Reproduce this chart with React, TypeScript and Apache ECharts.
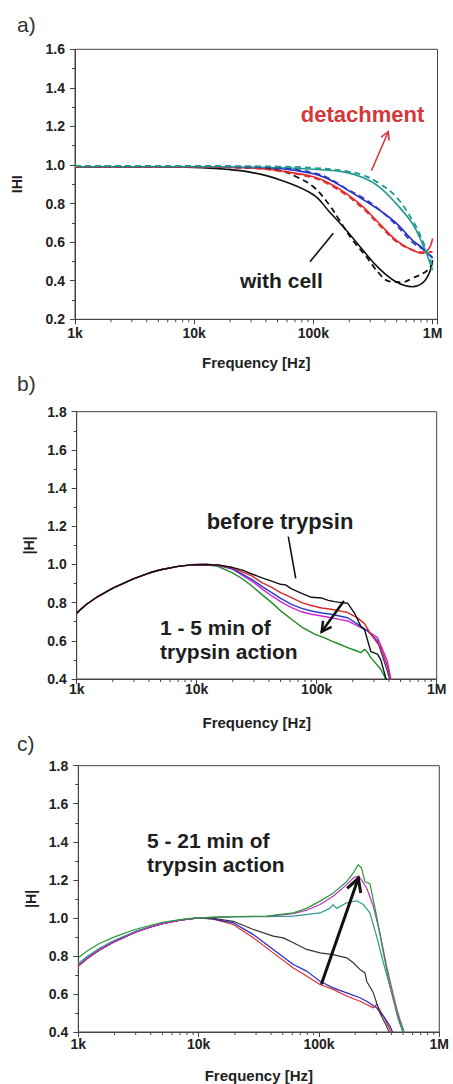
import { useEffect, useRef } from "react";
import * as echarts from "echarts";

// ---------- tick labels ----------
const freqTickLabels: Record<number, string> = { 1000: "1k", 10000: "10k", 100000: "100k", 1000000: "1M" };
const minorFreqs = [2e3, 3e3, 4e3, 5e3, 6e3, 7e3, 8e3, 9e3, 2e4, 3e4, 4e4, 5e4, 6e4, 7e4, 8e4, 9e4, 2e5, 3e5, 4e5, 5e5, 6e5, 7e5, 8e5, 9e5];

// ---------- panel a ----------
const aBlackSolid = [[1e3, 0.99], [5e3, 0.99], [1e4, 0.988], [2e4, 0.976], [3e4, 0.962], [5.2e4, 0.924], [1e5, 0.846], [1.36e5, 0.758], [1.88e5, 0.663], [2.6e5, 0.559], [3.56e5, 0.464], [4.93e5, 0.395], [6.75e5, 0.369], [8.2e5, 0.387], [9.35e5, 0.438], [1e6, 0.507]];
const aBlackDash = [[1e3, 0.99], [1e4, 0.99], [3e4, 0.985], [5.2e4, 0.972], [7.2e4, 0.939], [1e5, 0.887], [1.36e5, 0.793], [1.65e5, 0.715], [2.13e5, 0.611], [2.78e5, 0.525], [3.56e5, 0.438], [4.33e5, 0.397], [5.6e5, 0.393], [6.75e5, 0.413], [8.75e5, 0.447], [1e6, 0.49]];
const aRedSolid = [[1e3, 0.99], [1e4, 0.99], [3e4, 0.985], [5.2e4, 0.97], [1e5, 0.939], [1.36e5, 0.905], [1.88e5, 0.853], [2.6e5, 0.784], [3.56e5, 0.698], [4.93e5, 0.611], [6.75e5, 0.559], [8.2e5, 0.542], [9.35e5, 0.568], [1e6, 0.62]];
const aRedDash = [[1e3, 0.99], [1e4, 0.99], [3e4, 0.984], [5.2e4, 0.968], [1e5, 0.934], [1.36e5, 0.898], [1.88e5, 0.845], [2.6e5, 0.775], [3.56e5, 0.69], [4.93e5, 0.605], [6.75e5, 0.56], [8.2e5, 0.548], [1e6, 0.55]];
const aBlueSolid = [[1e3, 0.99], [1e4, 0.99], [3e4, 0.987], [5.2e4, 0.982], [1e5, 0.955], [1.36e5, 0.925], [1.88e5, 0.875], [2.6e5, 0.822], [3.56e5, 0.767], [4.93e5, 0.7], [6.75e5, 0.611], [8.2e5, 0.57], [1e6, 0.517]];
const aBlueDash = [[1e3, 0.995], [1e4, 0.995], [3e4, 0.99], [5.2e4, 0.985], [1e5, 0.96], [1.36e5, 0.93], [1.88e5, 0.878], [2.6e5, 0.83], [3.56e5, 0.77], [4.93e5, 0.69], [6.75e5, 0.6], [8.2e5, 0.565], [1e6, 0.52]];
const aTealSolid = [[1e3, 0.99], [1e4, 0.99], [5.2e4, 0.986], [1e5, 0.978], [1.88e5, 0.962], [2.6e5, 0.935], [3.56e5, 0.887], [4.93e5, 0.801], [6.75e5, 0.698], [8.2e5, 0.594], [9.35e5, 0.507], [1e6, 0.455]];
const aTealDash = [[1e3, 0.995], [1e4, 0.995], [5.2e4, 0.992], [1e5, 0.985], [1.88e5, 0.968], [2.6e5, 0.948], [3.56e5, 0.905], [4.93e5, 0.836], [6.75e5, 0.715], [8.2e5, 0.611], [1e6, 0.473]];

// ---------- panel b ----------
const bBlack = [[1e3, 0.745], [1.2e3, 0.79], [1.5e3, 0.832], [2e3, 0.876], [3e3, 0.926], [4e3, 0.955], [5e3, 0.972], [7e3, 0.99], [9e3, 0.998], [1.2e4, 1.0], [1.5e4, 0.998], [1.97e4, 0.985], [2.4e4, 0.97], [2.88e4, 0.95], [3.5e4, 0.93], [4.22e4, 0.913], [5e4, 0.896], [5.5e4, 0.893], [6.17e4, 0.872], [7.5e4, 0.848], [9.02e4, 0.828], [1.1e5, 0.824], [1.25e5, 0.812], [1.41e5, 0.805], [1.6e5, 0.8], [1.81e5, 0.797], [2.07e5, 0.744], [2.34e5, 0.674], [2.5e5, 0.66], [2.65e5, 0.604], [2.83e5, 0.543], [3.21e5, 0.53], [3.42e5, 0.5], [3.76e5, 0.407], [3.9e5, 0.38]];
const bRed = [[1e3, 0.745], [1.2e3, 0.79], [1.5e3, 0.832], [2e3, 0.876], [3e3, 0.926], [4e3, 0.955], [5e3, 0.972], [7e3, 0.99], [9e3, 0.998], [1.2e4, 1.0], [1.5e4, 0.997], [1.97e4, 0.982], [2.88e4, 0.94], [3.5e4, 0.905], [4.22e4, 0.88], [5e4, 0.852], [6.17e4, 0.826], [7.5e4, 0.8], [9.02e4, 0.785], [1.1e5, 0.772], [1.32e5, 0.765], [1.55e5, 0.757], [1.81e5, 0.748], [2.19e5, 0.72], [2.5e5, 0.69], [2.83e5, 0.634], [3.42e5, 0.564], [3.88e5, 0.468], [4.14e5, 0.4], [4.3e5, 0.37]];
const bBlue = [[1e3, 0.745], [1.2e3, 0.79], [1.5e3, 0.832], [2e3, 0.876], [3e3, 0.926], [4e3, 0.955], [5e3, 0.972], [7e3, 0.99], [9e3, 0.998], [1.2e4, 1.0], [1.5e4, 0.996], [1.97e4, 0.978], [2.88e4, 0.922], [3.5e4, 0.885], [4.22e4, 0.852], [5e4, 0.822], [6.17e4, 0.791], [7.5e4, 0.77], [9.02e4, 0.756], [1.1e5, 0.746], [1.32e5, 0.739], [1.55e5, 0.73], [1.81e5, 0.721], [2.19e5, 0.687], [2.65e5, 0.652], [3.21e5, 0.6], [3.88e5, 0.442], [4.05e5, 0.4], [4.2e5, 0.37]];
const bMagenta = [[1e3, 0.745], [1.2e3, 0.79], [1.5e3, 0.832], [2e3, 0.876], [3e3, 0.926], [4e3, 0.955], [5e3, 0.972], [7e3, 0.99], [9e3, 0.998], [1.2e4, 1.0], [1.5e4, 0.996], [1.97e4, 0.976], [2.88e4, 0.913], [3.5e4, 0.872], [4.22e4, 0.835], [5e4, 0.805], [6.17e4, 0.774], [7.5e4, 0.752], [9.02e4, 0.739], [1.1e5, 0.73], [1.32e5, 0.721], [1.55e5, 0.712], [1.81e5, 0.704], [2.19e5, 0.678], [2.65e5, 0.652], [3.21e5, 0.617], [3.88e5, 0.495], [4.14e5, 0.4], [4.3e5, 0.37]];
const bGreen = [[1e3, 0.745], [1.2e3, 0.79], [1.5e3, 0.832], [2e3, 0.876], [3e3, 0.926], [4e3, 0.955], [5e3, 0.972], [7e3, 0.99], [9e3, 0.998], [1.2e4, 0.998], [1.5e4, 0.99], [1.97e4, 0.957], [2.4e4, 0.925], [2.88e4, 0.887], [3.5e4, 0.842], [4.22e4, 0.8], [5e4, 0.757], [6.17e4, 0.713], [7.5e4, 0.672], [9.7e4, 0.634], [1.15e5, 0.617], [1.32e5, 0.6], [1.55e5, 0.582], [1.81e5, 0.564], [2.05e5, 0.552], [2.34e5, 0.538], [2.5e5, 0.556], [2.65e5, 0.54], [2.83e5, 0.512], [3.42e5, 0.451], [3.76e5, 0.4], [3.9e5, 0.37]];

// ---------- panel c ----------
const cGreen = [[1e3, 0.79], [1.2e3, 0.828], [1.5e3, 0.865], [2e3, 0.9], [3e3, 0.94], [5e3, 0.977], [8e3, 0.996], [1.32e4, 1.004], [1.94e4, 1.007], [3.67e4, 1.009], [6.12e4, 1.026], [7.9e4, 1.05], [1.02e5, 1.088], [1.31e5, 1.13], [1.7e5, 1.19], [1.93e5, 1.236], [2.12e5, 1.28], [2.26e5, 1.262], [2.41e5, 1.19], [2.65e5, 1.18], [3.01e5, 1.01], [3.43e5, 0.816], [3.89e5, 0.64], [4.56e5, 0.466], [5.02e5, 0.396], [5.2e5, 0.37]];
const cMagenta = [[1e3, 0.75], [1.2e3, 0.79], [1.5e3, 0.832], [2e3, 0.876], [3e3, 0.926], [4e3, 0.953], [5e3, 0.97], [7e3, 0.988], [1e4, 1.0], [1.32e4, 1.002], [1.94e4, 1.006], [3.67e4, 1.008], [6.12e4, 1.022], [7.9e4, 1.04], [1.02e5, 1.07], [1.31e5, 1.114], [1.7e5, 1.175], [1.93e5, 1.21], [2.12e5, 1.22], [2.26e5, 1.2], [2.49e5, 1.157], [2.83e5, 1.061], [3.21e5, 0.92], [3.65e5, 0.746], [4.42e5, 0.52], [5.02e5, 0.39], [5.2e5, 0.37]];
const cTeal = [[1e3, 0.76], [1.2e3, 0.8], [1.5e3, 0.84], [2e3, 0.882], [3e3, 0.93], [4e3, 0.956], [5e3, 0.972], [7e3, 0.99], [1e4, 1.0], [1.32e4, 1.003], [1.94e4, 1.006], [3.67e4, 1.006], [6.12e4, 1.009], [1.02e5, 1.026], [1.23e5, 1.05], [1.31e5, 1.07], [1.4e5, 1.05], [1.7e5, 1.079], [2.06e5, 1.09], [2.34e5, 1.07], [2.65e5, 1.026], [3.01e5, 0.904], [3.43e5, 0.764], [3.89e5, 0.64], [4.71e5, 0.466], [5.19e5, 0.39], [5.4e5, 0.37]];
const cBlack = [[1e3, 0.75], [1.2e3, 0.79], [1.5e3, 0.832], [2e3, 0.876], [3e3, 0.926], [4e3, 0.953], [5e3, 0.97], [7e3, 0.988], [1e4, 1.0], [1.32e4, 0.998], [1.94e4, 0.982], [2.85e4, 0.939], [4.17e4, 0.904], [5.05e4, 0.895], [6.12e4, 0.869], [7.9e4, 0.834], [1.02e5, 0.816], [1.31e5, 0.807], [1.7e5, 0.79], [1.93e5, 0.764], [2.19e5, 0.729], [2.41e5, 0.711], [2.49e5, 0.667], [2.83e5, 0.606], [3.21e5, 0.5], [3.65e5, 0.43], [3.89e5, 0.39], [4e5, 0.37]];
const cBlue = [[1e3, 0.75], [1.2e3, 0.79], [1.5e3, 0.832], [2e3, 0.876], [3e3, 0.926], [4e3, 0.953], [5e3, 0.97], [7e3, 0.988], [1e4, 1.0], [1.32e4, 0.995], [1.94e4, 0.974], [2.85e4, 0.912], [4.17e4, 0.834], [6.12e4, 0.755], [7.9e4, 0.72], [1.02e5, 0.667], [1.31e5, 0.632], [1.7e5, 0.606], [2.19e5, 0.58], [2.49e5, 0.562], [3.01e5, 0.527], [3.43e5, 0.484], [3.89e5, 0.431], [4.15e5, 0.39], [4.3e5, 0.37]];
const cRed = [[1e3, 0.745], [1.2e3, 0.788], [1.5e3, 0.83], [2e3, 0.874], [3e3, 0.925], [4e3, 0.952], [5e3, 0.97], [7e3, 0.988], [1e4, 1.0], [1.32e4, 0.993], [1.94e4, 0.965], [2.85e4, 0.895], [4.17e4, 0.816], [6.12e4, 0.737], [7.9e4, 0.694], [1.02e5, 0.65], [1.31e5, 0.624], [1.7e5, 0.589], [2.19e5, 0.562], [2.49e5, 0.545], [2.83e5, 0.527], [3.01e5, 0.545], [3.43e5, 0.484], [3.89e5, 0.414], [4.02e5, 0.39], [4.2e5, 0.37]];

const yMins = [0.2, 0.4, 0.4];
const yMaxs = [1.6, 1.8, 1.8];
const xMaxs = [1.1e6, 1e6, 1e6];
const yNames = ["IHI", "|H|", "|H|"];

const FONT = "'Liberation Sans', Arial, sans-serif";

function arrow(x1: number, y1: number, x2: number, y2: number, color: string, w: number, head: number, spread = 0.5) {
  const a = Math.atan2(y2 - y1, x2 - x1);
  const p1 = [x2 - head * Math.cos(a - spread), y2 - head * Math.sin(a - spread)];
  const p2 = [x2 - head * Math.cos(a + spread), y2 - head * Math.sin(a + spread)];
  return [
    { type: "line", shape: { x1, y1, x2, y2 }, style: { stroke: color, lineWidth: w, lineCap: "round" }, z: 100 },
    { type: "polyline", shape: { points: [p1, [x2, y2], p2] }, style: { stroke: color, lineWidth: w, fill: null, lineJoin: "miter" }, z: 100 },
  ];
}

function text(t: string, x: number, y: number, size: number, color: string, align = "center", weight = "bold") {
  return {
    type: "text", x, y, z: 100,
    style: { text: t, fill: color, font: `${weight} ${size}px ${FONT}`, textAlign: align, verticalAlign: "middle" },
  };
}

export default function App() {
  const ref = useRef<HTMLDivElement>(null);
  useEffect(() => {
    const chart = echarts.init(ref.current!, null, { renderer: "svg" });
    const grids = [
      { left: 75, top: 49.3, width: 362.5, height: 270 },
      { left: 76.7, top: 411.7, width: 360, height: 267.3 },
      { left: 78.3, top: 765.7, width: 361, height: 266.6 },
    ].map((g) => ({ ...g, show: true, borderColor: "#444", borderWidth: 1, backgroundColor: "transparent" }));

    const labelMargins = [7, 3, 5];
    const yNameGaps = [51, 37, 38];
    const xAxis = [0, 1, 2].map((i) => ({
      type: "log", logBase: 10, gridIndex: i, min: 1000, max: xMaxs[i],
      axisLine: { show: true, lineStyle: { color: "#444", width: 1 } },
      axisTick: { show: true, inside: false, length: 5, lineStyle: { color: "#444" } },
      axisLabel: {
        margin: labelMargins[i], fontFamily: FONT, fontWeight: "bold", fontSize: 14, color: "#222",
        formatter: (v: number) => freqTickLabels[Math.round(v)] ?? "",
      },
      splitLine: { show: false },
      name: "Frequency [Hz]", nameLocation: "middle", nameGap: 36,
      nameTextStyle: { fontFamily: FONT, fontWeight: "bold", fontSize: 15, color: "#222" },
    }));
    const yAxis = [0, 1, 2].map((i) => ({
      type: "value", gridIndex: i, min: yMins[i], max: yMaxs[i], interval: 0.2,
      axisLine: { show: true, lineStyle: { color: "#444", width: 1 } },
      axisTick: { show: true, inside: false, length: 5, lineStyle: { color: "#444" } },
      minorTick: { show: true, splitNumber: 2, length: 3, lineStyle: { color: "#444" } },
      axisLabel: { margin: 10, fontFamily: FONT, fontWeight: "bold", fontSize: 14, color: "#222", formatter: (v: number) => v.toFixed(1) },
      splitLine: { show: false },
      name: yNames[i], nameLocation: "middle", nameGap: yNameGaps[i],
      nameTextStyle: { fontFamily: FONT, fontWeight: "bold", fontSize: 14, color: "#222" },
    }));

    const line = (i: number, data: number[][], color: string, width: number, dashed = false, smooth: boolean | number = false) => ({
      type: "line", xAxisIndex: i, yAxisIndex: i, data, showSymbol: false, symbol: "none", smooth,
      lineStyle: { color, width, type: dashed ? [6, 4] : "solid" }, clip: true, silent: true,
    });

    const minorTicks = (i: number) => ({
      type: "custom", xAxisIndex: i, yAxisIndex: i, silent: true, clip: false,
      data: minorFreqs.map((f) => [f, yMins[i]]),
      renderItem: (_p: any, api: any) => {
        const pt = api.coord([api.value(0), api.value(1)]);
        return { type: "line", shape: { x1: pt[0], y1: pt[1], x2: pt[0], y2: pt[1] + 3 }, style: { stroke: "#444", lineWidth: 1 } };
      },
    });

    const series = [
      line(0, aBlackSolid, "#111", 1.6, false, 0.4),
      line(0, aRedSolid, "#e52b2b", 1.6, false, 0.4),
      line(0, aBlueSolid, "#2626c4", 1.6, false, 0.4),
      line(0, aTealSolid, "#1f9a8c", 1.6, false, 0.4),
      line(0, aBlackDash, "#111", 1.8, true, 0.4),
      line(0, aRedDash, "#e52b2b", 1.8, true, 0.4),
      line(0, aBlueDash, "#3040c0", 1.8, true, 0.4),
      line(0, aTealDash, "#1f9a8c", 1.8, true, 0.4),
      line(1, bGreen, "#1f8a22", 1.4),
      line(1, bMagenta, "#d028d0", 1.4),
      line(1, bBlue, "#2a3ccc", 1.4),
      line(1, bRed, "#d62a2a", 1.4),
      line(1, bBlack, "#111", 1.4),
      line(2, cRed, "#e03030", 1.2),
      line(2, cBlue, "#2828cc", 1.2),
      line(2, cBlack, "#333", 1.2),
      line(2, cTeal, "#2a9a8a", 1.2),
      line(2, cMagenta, "#c030c0", 1.2),
      line(2, cGreen, "#2a9a3a", 1.2),
      minorTicks(0), minorTicks(1), minorTicks(2),
    ];

    const graphic = [
      text("a)", 17, 24, 21, "#333", "left", "normal"),
      text("b)", 17, 383, 21, "#333", "left", "normal"),
      text("c)", 17, 743, 21, "#333", "left", "normal"),
      text("detachment", 362.5, 114.4, 22, "#d5383a"),
      ...arrow(371.7, 170, 388.3, 131.7, "#d5383a", 1.6, 9),
      text("with cell", 281.3, 280.5, 21, "#1e1e1e"),
      { type: "line", shape: { x1: 310, y1: 261.7, x2: 333.3, y2: 233.3 }, style: { stroke: "#111", lineWidth: 1.6 }, z: 100 },
      text("before trypsin", 280, 521.4, 22, "#1e1e1e"),
      { type: "line", shape: { x1: 288.3, y1: 536.7, x2: 295.7, y2: 578.3 }, style: { stroke: "#111", lineWidth: 1.6 }, z: 100 },
      ...arrow(343.3, 601.7, 321.7, 631.7, "#111", 2.5, 11),
      text("1 - 5 min of", 160, 627.6, 21, "#1e1e1e", "left"),
      text("trypsin action", 160, 651.2, 21, "#1e1e1e", "left"),
      text("5 - 21 min of", 147, 840.4, 21, "#1e1e1e", "left"),
      text("trypsin action", 147, 864, 21, "#1e1e1e", "left"),
      ...arrow(321.7, 983.3, 358.3, 878.3, "#111", 3, 15),
    ];

    chart.setOption({ animation: false, backgroundColor: "#fff", grid: grids, xAxis, yAxis, series, graphic });
    return () => chart.dispose();
  }, []);
  return <div ref={ref} style={{ position: "absolute", left: 0, top: 0, width: 453, height: 1084, background: "#fff" }} />;
}
